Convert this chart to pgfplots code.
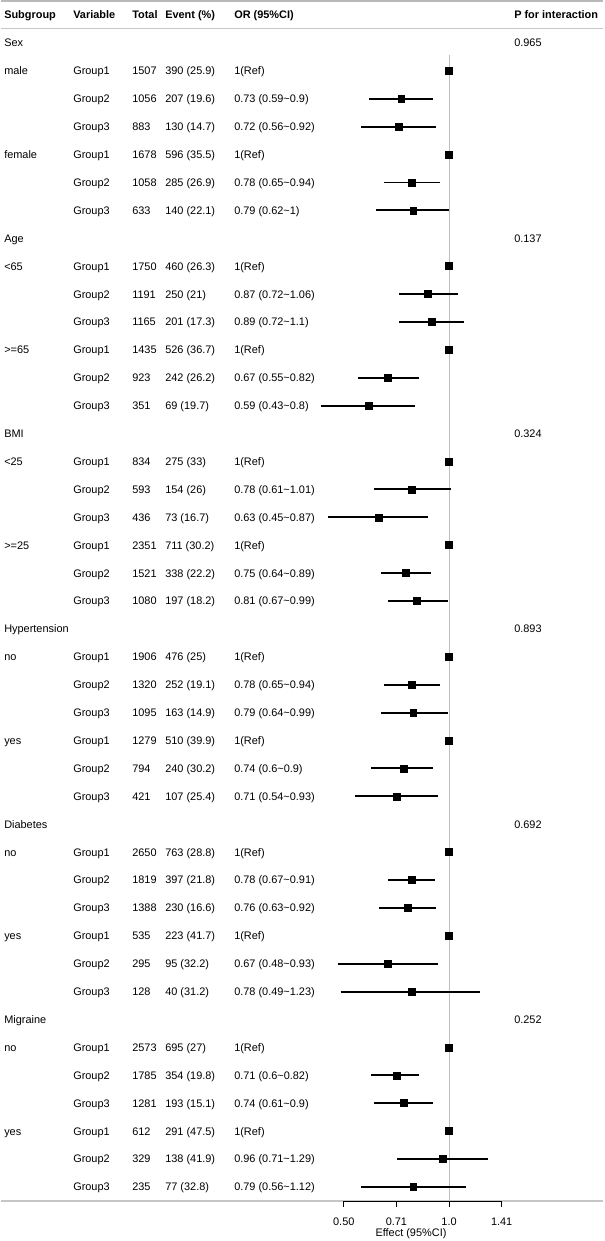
\documentclass[border=0pt]{standalone}
\usepackage{pgfplots}
\pgfplotsset{compat=1.18}
\usepackage{fontspec}
\setmainfont{Liberation Sans}
\newcommand\T{\textasciitilde}
\newcommand\frow[7]{%
\node[txt] at (axis cs:3,#1) {#2};%
\node[txt] at (axis cs:72,#1) {#3};%
\node[txt] at (axis cs:131,#1) {#4};%
\node[txt] at (axis cs:164,#1) {#5};%
\node[txt] at (axis cs:233,#1) {#6};%
\node[txt] at (axis cs:513,#1) {#7};%
}
\begin{document}
\begin{tikzpicture}[every node/.append style={font=\fontsize{8.2}{9.8}\selectfont, inner sep=0pt},
  txt/.style={anchor=base west, yshift=-2.95pt}]
% ---------------- text columns ----------------
\begin{axis}[at={(0,0)}, anchor=south west, scale only axis,
  width=451.5pt, height=930.75pt,
  xmin=0, xmax=602, ymin=-1.5412, ymax=42.9391, y dir=reverse,
  hide axis, clip=false]
\path (rel axis cs:0,0) rectangle (rel axis cs:1,1);
\draw[gray!55, line width=1.5pt] (axis cs:0,-1.49) -- (axis cs:602,-1.49);
\draw[gray!45, line width=1.1pt] (axis cs:0,-0.52) -- (axis cs:602,-0.52);
\draw[gray!45, line width=1.1pt] (axis cs:0,41.505) -- (axis cs:602,41.505);
\frow{-1.0036}{\bfseries Subgroup}{\bfseries Variable}{\bfseries Total}{\bfseries Event (\%)}{\bfseries OR (95\%CI)}{\bfseries P for interaction}
\frow{0}{Sex}{}{}{}{}{0.965}
\frow{1}{male}{Group1}{1507}{390 (25.9)}{1(Ref)}{}
\frow{2}{}{Group2}{1056}{207 (19.6)}{0.73 (0.59\T0.9)}{}
\frow{3}{}{Group3}{883}{130 (14.7)}{0.72 (0.56\T0.92)}{}
\frow{4}{female}{Group1}{1678}{596 (35.5)}{1(Ref)}{}
\frow{5}{}{Group2}{1058}{285 (26.9)}{0.78 (0.65\T0.94)}{}
\frow{6}{}{Group3}{633}{140 (22.1)}{0.79 (0.62\T1)}{}
\frow{7}{Age}{}{}{}{}{0.137}
\frow{8}{<65}{Group1}{1750}{460 (26.3)}{1(Ref)}{}
\frow{9}{}{Group2}{1191}{250 (21)}{0.87 (0.72\T1.06)}{}
\frow{10}{}{Group3}{1165}{201 (17.3)}{0.89 (0.72\T1.1)}{}
\frow{11}{>=65}{Group1}{1435}{526 (36.7)}{1(Ref)}{}
\frow{12}{}{Group2}{923}{242 (26.2)}{0.67 (0.55\T0.82)}{}
\frow{13}{}{Group3}{351}{69 (19.7)}{0.59 (0.43\T0.8)}{}
\frow{14}{BMI}{}{}{}{}{0.324}
\frow{15}{<25}{Group1}{834}{275 (33)}{1(Ref)}{}
\frow{16}{}{Group2}{593}{154 (26)}{0.78 (0.61\T1.01)}{}
\frow{17}{}{Group3}{436}{73 (16.7)}{0.63 (0.45\T0.87)}{}
\frow{18}{>=25}{Group1}{2351}{711 (30.2)}{1(Ref)}{}
\frow{19}{}{Group2}{1521}{338 (22.2)}{0.75 (0.64\T0.89)}{}
\frow{20}{}{Group3}{1080}{197 (18.2)}{0.81 (0.67\T0.99)}{}
\frow{21}{Hypertension}{}{}{}{}{0.893}
\frow{22}{no}{Group1}{1906}{476 (25)}{1(Ref)}{}
\frow{23}{}{Group2}{1320}{252 (19.1)}{0.78 (0.65\T0.94)}{}
\frow{24}{}{Group3}{1095}{163 (14.9)}{0.79 (0.64\T0.99)}{}
\frow{25}{yes}{Group1}{1279}{510 (39.9)}{1(Ref)}{}
\frow{26}{}{Group2}{794}{240 (30.2)}{0.74 (0.6\T0.9)}{}
\frow{27}{}{Group3}{421}{107 (25.4)}{0.71 (0.54\T0.93)}{}
\frow{28}{Diabetes}{}{}{}{}{0.692}
\frow{29}{no}{Group1}{2650}{763 (28.8)}{1(Ref)}{}
\frow{30}{}{Group2}{1819}{397 (21.8)}{0.78 (0.67\T0.91)}{}
\frow{31}{}{Group3}{1388}{230 (16.6)}{0.76 (0.63\T0.92)}{}
\frow{32}{yes}{Group1}{535}{223 (41.7)}{1(Ref)}{}
\frow{33}{}{Group2}{295}{95 (32.2)}{0.67 (0.48\T0.93)}{}
\frow{34}{}{Group3}{128}{40 (31.2)}{0.78 (0.49\T1.23)}{}
\frow{35}{Migraine}{}{}{}{}{0.252}
\frow{36}{no}{Group1}{2573}{695 (27)}{1(Ref)}{}
\frow{37}{}{Group2}{1785}{354 (19.8)}{0.71 (0.6\T0.82)}{}
\frow{38}{}{Group3}{1281}{193 (15.1)}{0.74 (0.61\T0.9)}{}
\frow{39}{yes}{Group1}{612}{291 (47.5)}{1(Ref)}{}
\frow{40}{}{Group2}{329}{138 (41.9)}{0.96 (0.71\T1.29)}{}
\frow{41}{}{Group3}{235}{77 (32.8)}{0.79 (0.56\T1.12)}{}
\node[anchor=base] at (axis cs:410,42.76) {Effect (95\%CI)};
\end{axis}
% ---------------- forest ----------------
\begin{axis}[at={(210pt,0)}, anchor=south west, scale only axis,
  width=240pt, height=930.75pt,
  xmode=log, log basis x=2, xmin=0.3307, xmax=2.7199,
  ymin=-1.5412, ymax=42.9391, y dir=reverse,
  hide axis, clip=false]
\draw[gray!50, line width=0.8pt] (axis cs:1,0.43) -- (axis cs:1,41.505);
\addplot[black, line width=1.4pt, unbounded coords=jump, forget plot] coordinates {
(0.59,2) (0.9,2) (nan,nan)
(0.56,3) (0.92,3) (nan,nan)
(0.65,5) (0.94,5) (nan,nan)
(0.62,6) (1,6) (nan,nan)
(0.72,9) (1.06,9) (nan,nan)
(0.72,10) (1.1,10) (nan,nan)
(0.55,12) (0.82,12) (nan,nan)
(0.43,13) (0.8,13) (nan,nan)
(0.61,16) (1.01,16) (nan,nan)
(0.45,17) (0.87,17) (nan,nan)
(0.64,19) (0.89,19) (nan,nan)
(0.67,20) (0.99,20) (nan,nan)
(0.65,23) (0.94,23) (nan,nan)
(0.64,24) (0.99,24) (nan,nan)
(0.6,26) (0.9,26) (nan,nan)
(0.54,27) (0.93,27) (nan,nan)
(0.67,30) (0.91,30) (nan,nan)
(0.63,31) (0.92,31) (nan,nan)
(0.48,33) (0.93,33) (nan,nan)
(0.49,34) (1.23,34) (nan,nan)
(0.6,37) (0.82,37) (nan,nan)
(0.61,38) (0.9,38) (nan,nan)
(0.71,40) (1.29,40) (nan,nan)
(0.56,41) (1.12,41)
};
\addplot[only marks, mark=square*, mark size=2.6pt, black, forget plot] coordinates {
(1,1) (0.73,2) (0.72,3) (1,4) (0.78,5) (0.79,6)
(1,8) (0.87,9) (0.89,10) (1,11) (0.67,12) (0.59,13)
(1,15) (0.78,16) (0.63,17) (1,18) (0.75,19) (0.81,20)
(1,22) (0.78,23) (0.79,24) (1,25) (0.74,26) (0.71,27)
(1,29) (0.78,30) (0.76,31) (1,32) (0.67,33) (0.78,34)
(1,36) (0.71,37) (0.74,38) (1,39) (0.96,40) (0.79,41)
};
\draw[black, line width=0.75pt] (axis cs:0.5,41.52) -- (axis cs:1.41421,41.52);
\draw[black, line width=0.75pt] (axis cs:0.5,41.52) -- ++(0pt,-4.5pt);
\draw[black, line width=0.75pt] (axis cs:0.70711,41.52) -- ++(0pt,-4.5pt);
\draw[black, line width=0.75pt] (axis cs:1,41.52) -- ++(0pt,-4.5pt);
\draw[black, line width=0.75pt] (axis cs:1.41421,41.52) -- ++(0pt,-4.5pt);
\node[anchor=base] at (axis cs:0.5,42.37) {0.50};
\node[anchor=base] at (axis cs:0.70711,42.37) {0.71};
\node[anchor=base] at (axis cs:1,42.37) {1.0};
\node[anchor=base] at (axis cs:1.41421,42.37) {1.41};
\end{axis}
\end{tikzpicture}
\end{document}
